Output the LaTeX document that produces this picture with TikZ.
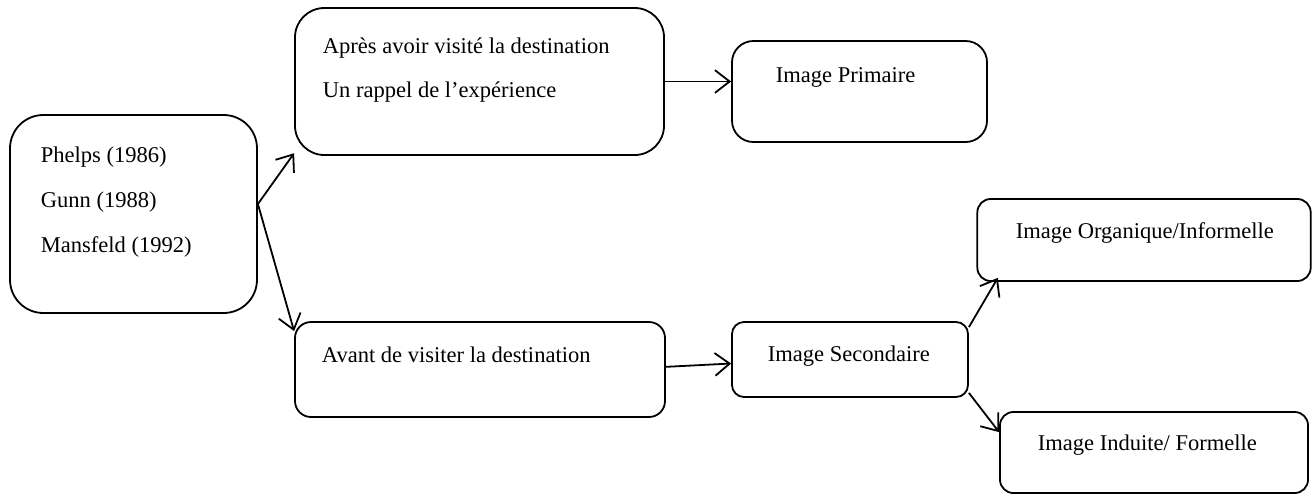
\documentclass[tikz,border=0pt]{standalone}
\usepackage{fontspec}
\setmainfont{Liberation Serif}
\usetikzlibrary{arrows.meta}

\tikzset{every picture/.style={line width=1.35pt}}
\tikzset{
  imgbox/.style={draw, inner sep=0pt},
  lbl/.style={anchor=base west, inner sep=0pt, font=\fontsize{16.9}{20}\selectfont},
  arr/.style={-{Straight Barb[length=11pt,width=17pt]}}
}

\begin{document}
\begin{tikzpicture}[x=0.75pt,y=0.75pt,yscale=-1,xscale=1]
\useasboundingbox (0,0) rectangle (1312,494);

%Shape: Rounded Rect [auteurs]
\node [imgbox, rounded corners=25pt, minimum width=185.25pt, minimum height=148.5pt] (auteurs) at (133.5,214) {};
%Shape: Rounded Rect [apres]
\node [imgbox, rounded corners=22pt, minimum width=276.75pt, minimum height=110.25pt] (apres) at (479.5,81.5) {};
%Shape: Rounded Rect [primaire]
\node [imgbox, rounded corners=16pt, minimum width=191.25pt, minimum height=75.75pt] (primaire) at (859.5,91.5) {};
%Shape: Rounded Rect [avant]
\node [imgbox, rounded corners=12pt, minimum width=277.5pt, minimum height=71.25pt] (avant) at (480,369.5) {};
%Shape: Rounded Rect [secondaire]
\node [imgbox, rounded corners=9pt, minimum width=177pt, minimum height=56.25pt] (secondaire) at (850,359.5) {};
%Shape: Rounded Rect [organique]
\node [imgbox, rounded corners=10pt, minimum width=250pt, minimum height=61.5pt] (organique) at (1144,240) {};
%Shape: Rounded Rect [induite]
\node [imgbox, rounded corners=10pt, minimum width=231pt, minimum height=60.75pt] (induite) at (1154,452.5) {};

%Straight Lines [with arrows]
\coordinate (fourche) at ([yshift=-7.5pt]auteurs.east);
\draw [arr] (fourche) -- ([yshift=-2pt]apres.south west);
\draw [arr] (fourche) -- ([yshift=7.5pt]avant.north west);
\draw [arr] (apres.east) -- (apres.east -| primaire.west);
\draw [arr] ([yshift=-2pt]avant.east) -- ([yshift=3pt]secondaire.west);
\draw [arr] ([yshift=4.5pt]secondaire.north east) -- ([xshift=16pt,yshift=-3pt]organique.south west);
\draw [arr] ([yshift=-3.75pt]secondaire.south east) -- ([yshift=15.75pt]induite.north west);

% Text Node
\node [lbl] (phelps) at (40,162) {Phelps (1986)};
% Text Node
\node [lbl] (gunn) at (40,207) {Gunn (1988)};
% Text Node
\node [lbl] (mansfeld) at (40,252) {Mansfeld (1992)};
% Text Node
\node [lbl] (apres1) at (322,53) {Après avoir visité la destination};
% Text Node
\node [lbl] (apres2) at (322,97) {Un rappel de l’expérience};
% Text Node
\node [lbl] (primtxt) at (775,82) {Image Primaire};
% Text Node
\node [lbl] (avanttxt) at (321,362) {Avant de visiter la destination};
% Text Node
\node [lbl] (sectxt) at (767,361) {Image Secondaire};
% Text Node
\node [lbl] (orgtxt) at (1015,238) {Image Organique/Informelle};
% Text Node
\node [lbl] (indtxt) at (1037,450) {Image Induite/ Formelle};

\end{tikzpicture}
\end{document}
